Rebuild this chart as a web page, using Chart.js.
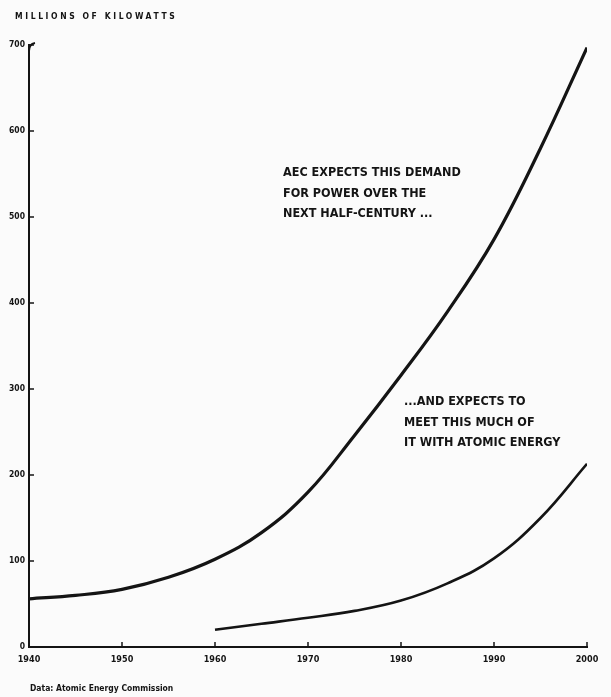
<!DOCTYPE html>
<html>
<head>
<meta charset="utf-8">
<script src="https://cdn.jsdelivr.net/npm/chart.js@4/dist/chart.umd.min.js"></script>
<style>
  html, body { margin: 0; padding: 0; background: #fbfbfb; }
  #wrap { width: 611px; height: 697px; position: relative; }
</style>
</head>
<body>
<div id="wrap"><canvas id="power" width="611" height="697"></canvas></div>
<script>
// values (millions of kilowatts)
const years = [1940, 1945, 1950, 1955, 1960, 1965, 1970, 1975, 1980, 1985, 1990, 1995, 2000];
const demand = [56, 60, 67, 81, 102, 133, 180, 246, 316, 390, 474, 580, 697];
const atomicYears = [1960, 1965, 1970, 1975, 1980, 1985, 1990, 1995, 2000];
const atomic = [20, 27, 34, 42, 54, 74, 103, 150, 213];
const xTicks = [1940, 1950, 1960, 1970, 1980, 1990, 2000];
const yTicks = [0, 100, 200, 300, 400, 500, 600, 700];

const ink = '#141414';
const font = '"Liberation Sans Narrow", "DejaVu Sans Condensed", sans-serif';

// text and little tick marks, like the printed original
const extras = {
  id: 'extras',
  afterDraw(chart) {
    const c = chart.ctx;
    const xs = chart.scales.x, ys = chart.scales.y;
    const a = chart.chartArea;
    c.save();
    c.strokeStyle = ink;
    c.lineWidth = 1.5;
    // y tick marks point into the plot
    yTicks.forEach(v => {
      if (v === 0) return;
      const py = ys.getPixelForValue(v);
      c.beginPath(); c.moveTo(a.left, py); c.lineTo(a.left + 5, py); c.stroke();
    });
    // x tick marks sit on top of the baseline
    xTicks.forEach(v => {
      if (v === 1940) return;
      const px = xs.getPixelForValue(v);
      c.beginPath(); c.moveTo(px, a.bottom); c.lineTo(px, a.bottom - 5); c.stroke();
    });
    // hook at the top of the axis
    c.lineWidth = 2;
    c.beginPath();
    c.moveTo(a.left, a.top + 6);
    c.quadraticCurveTo(a.left, a.top - 1, a.left + 6, a.top - 2);
    c.stroke();

    c.fillStyle = ink;
    c.textBaseline = 'alphabetic';
    c.font = 'bold 8.5px ' + font;
    c.letterSpacing = '2.6px';
    c.fillText('MILLIONS OF KILOWATTS', 15, 19);
    c.letterSpacing = '0px';

    c.font = 'bold 12.5px ' + font;
    const note1 = ['AEC EXPECTS THIS DEMAND', 'FOR POWER OVER THE', 'NEXT HALF-CENTURY ...'];
    note1.forEach((t, i) => c.fillText(t, 283, 176 + i * 20.5));
    const note2 = ['...AND EXPECTS TO', 'MEET THIS MUCH OF', 'IT WITH ATOMIC ENERGY'];
    note2.forEach((t, i) => c.fillText(t, 404, 405 + i * 20.5));

    c.font = 'bold 8.5px ' + font;
    c.fillText('Data: Atomic Energy Commission', 30, 691);
    c.restore();
  }
};

new Chart(document.getElementById('power'), {
  type: 'line',
  data: {
    datasets: [
      {
        label: 'Demand for power',
        data: years.map((y, i) => ({ x: y, y: demand[i] })),
        borderColor: ink,
        borderWidth: 3.2,
        pointRadius: 0,
        tension: 0.4
      },
      {
        label: 'Met with atomic energy',
        data: atomicYears.map((y, i) => ({ x: y, y: atomic[i] })),
        borderColor: ink,
        borderWidth: 2.6,
        pointRadius: 0,
        tension: 0.4
      }
    ]
  },
  options: {
    responsive: false,
    animation: false,
    layout: { padding: { left: 0, right: 24, top: 45, bottom: 25 } },
    plugins: { legend: { display: false }, tooltip: { enabled: false } },
    scales: {
      x: {
        type: 'linear',
        min: 1940,
        max: 2000,
        afterBuildTicks: s => { s.ticks = xTicks.map(v => ({ value: v })); },
        afterFit: s => { s.height = 25; },
        grid: { display: false, drawTicks: false },
        border: { color: ink, width: 2 },
        ticks: {
          color: ink,
          padding: 7,
          maxRotation: 0,
          font: { family: font, size: 9, weight: 'bold' },
          callback: v => String(v)
        }
      },
      y: {
        min: 0,
        max: 700,
        afterBuildTicks: s => { s.ticks = yTicks.map(v => ({ value: v })); },
        afterFit: s => { s.width = 29; },
        grid: { display: false, drawTicks: false },
        border: { color: ink, width: 2 },
        ticks: {
          color: ink,
          padding: 4,
          font: { family: font, size: 8.5, weight: 'bold' },
          callback: v => String(v)
        }
      }
    }
  },
  plugins: [extras]
});
</script>
</body>
</html>
